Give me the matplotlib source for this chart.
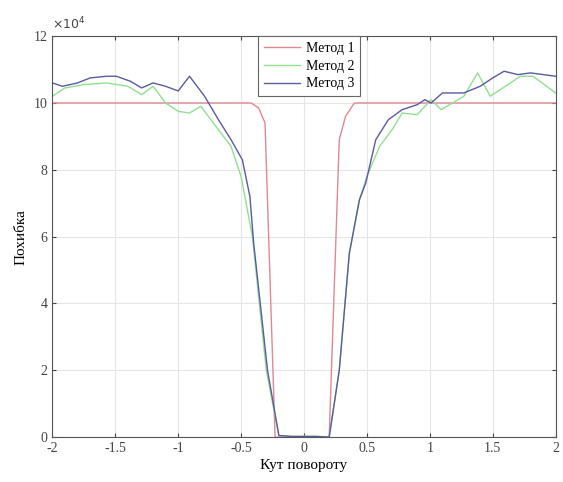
import matplotlib
matplotlib.use("Agg")
import matplotlib.pyplot as plt

# дані (похибка у одиницях 10^4)
x1 = [-2, -0.42, -0.36, -0.31, -0.23, 0.2, 0.28, 0.33, 0.4, 2]
y1 = [10, 10, 9.85, 9.4, 0, 0, 8.9, 9.6, 10, 10]

x2 = [-2, -1.9, -1.75, -1.57, -1.4, -1.29, -1.2, -1.1, -1.0, -0.91, -0.82, -0.7,
      -0.58, -0.5, -0.41, -0.3, -0.2, -0.1, 0, 0.1, 0.2, 0.28, 0.36, 0.44, 0.5,
      0.6, 0.7, 0.78, 0.9, 1.01, 1.09, 1.18, 1.27, 1.38, 1.48, 1.6, 1.72, 1.82, 2.0]
y2 = [10.2, 10.45, 10.55, 10.6, 10.5, 10.25, 10.5, 10.0, 9.75, 9.7, 9.9, 9.3,
      8.7, 7.8, 6.0, 2.0, 0.05, 0.03, 0.03, 0.03, 0.0, 2.0, 5.5, 7.1, 7.8,
      8.7, 9.2, 9.7, 9.65, 10.1, 9.8, 10.0, 10.2, 10.9, 10.2, 10.5, 10.8, 10.8, 10.3]

x3 = [-2, -1.92, -1.8, -1.7, -1.57, -1.49, -1.38, -1.29, -1.2, -1.1, -1.0, -0.91,
      -0.79, -0.68, -0.58, -0.49, -0.43, -0.4, -0.29, -0.2, -0.1, 0, 0.1, 0.2,
      0.28, 0.36, 0.44, 0.49, 0.57, 0.67, 0.78, 0.9, 0.96, 1.01, 1.1, 1.27, 1.4,
      1.5, 1.59, 1.7, 1.8, 2.0]
y3 = [10.6, 10.5, 10.6, 10.75, 10.8, 10.8, 10.65, 10.45, 10.6, 10.5, 10.36, 10.8,
      10.2, 9.5, 8.9, 8.3, 7.2, 5.8, 2.0, 0.05, 0.02, 0.02, 0.02, 0.0,
      2.0, 5.5, 7.1, 7.6, 8.9, 9.5, 9.8, 9.95, 10.1, 10.0, 10.3, 10.3, 10.5,
      10.75, 10.95, 10.85, 10.9, 10.8]

names = ["Метод 1", "Метод 2", "Метод 3"]
xticks = [-2, -1.5, -1, -0.5, 0, 0.5, 1, 1.5, 2]
xtick_labels = ["-2", "-1.5", "-1", "-0.5", "0", "0.5", "1", "1.5", "2"]
yticks = [0, 2, 4, 6, 8, 10, 12]

plt.rcParams["font.family"] = ["Liberation Serif", "DejaVu Serif"]

fig = plt.figure(figsize=(5.63, 4.82), dpi=100)
ax = fig.add_axes([0.093, 0.093, 0.894, 0.832])

ax.plot(x1, y1, color="#e08890", lw=1.0, label=names[0])
ax.plot(x2, y2, color="#90e090", lw=1.0, label=names[1])
ax.plot(x3, y3, color="#5a5aa0", lw=1.0, label=names[2])

ax.set_xlim(-2, 2)
ax.set_ylim(0, 12)
ax.set_xticks(xticks)
ax.set_xticklabels(xtick_labels)
ax.set_yticks(yticks)
ax.grid(True, color="#e6e6e6", lw=0.8)
ax.set_axisbelow(True)
ax.tick_params(direction="in", top=True, right=True, labelsize=10, length=3,
               colors="#444444")
for s in ax.spines.values():
    s.set_color("#555555")
    s.set_linewidth(0.8)

ax.text(0.0, 1.01, r"$\times10^4$", transform=ax.transAxes, fontsize=9,
        color="#444444", va="bottom", ha="left")

ax.set_xlabel("Кут повороту", fontsize=11, labelpad=3)
ax.set_ylabel("Похибка", fontsize=11, labelpad=4)

leg = ax.legend(loc="upper center", bbox_to_anchor=(0.51, 1.0), borderaxespad=0,
                fontsize=10, fancybox=False, edgecolor="#666666", framealpha=1,
                handlelength=2.6, handletextpad=0.4, labelspacing=0.35,
                borderpad=0.4)
leg.get_frame().set_linewidth(0.8)

fig.savefig("out.png", dpi=100)
